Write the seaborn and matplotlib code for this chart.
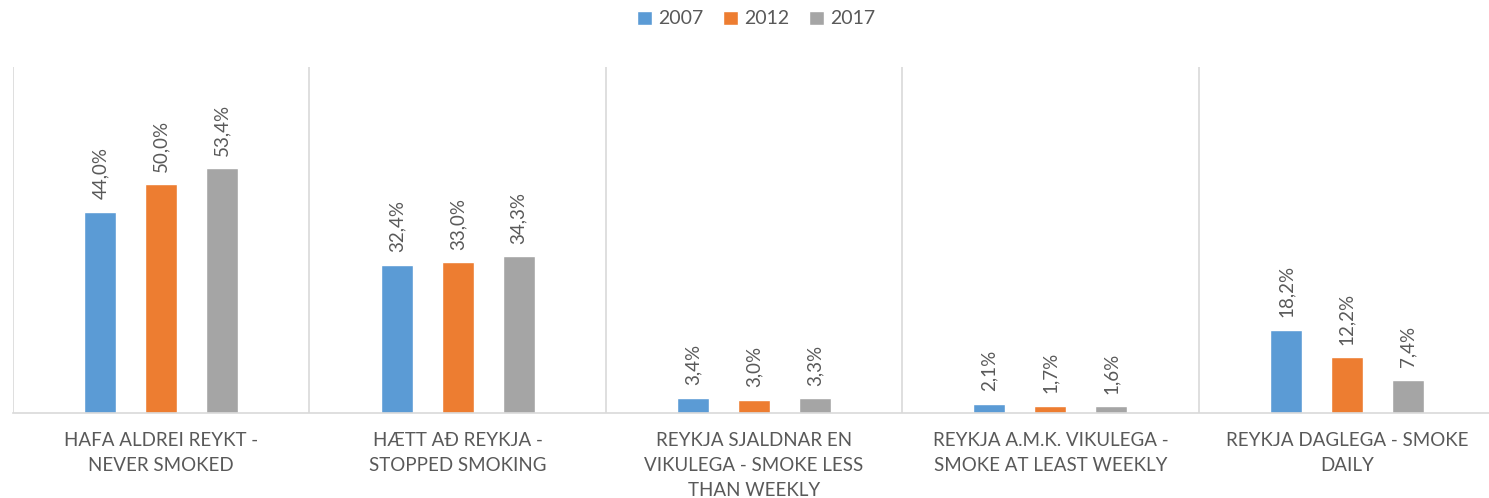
import pandas as pd
import seaborn as sns
import matplotlib.pyplot as plt

sns.set_style('white')
plt.rcParams['font.family'] = ['Lato', 'DejaVu Sans']

categories = ['HAFA ALDREI REYKT -\nNEVER SMOKED',
              'HÆTT AÐ REYKJA -\nSTOPPED SMOKING',
              'REYKJA SJALDNAR EN\nVIKULEGA - SMOKE LESS\nTHAN WEEKLY',
              'REYKJA A.M.K. VIKULEGA -\nSMOKE AT LEAST WEEKLY',
              'REYKJA DAGLEGA - SMOKE\nDAILY']
years = ['2007', '2012', '2017']
v2007 = [44.0, 32.4, 3.4, 2.1, 18.2]
v2012 = [50.0, 33.0, 3.0, 1.7, 12.2]
v2017 = [53.4, 34.3, 3.3, 1.6, 7.4]
colors = ['#5B9BD5', '#ED7D31', '#A5A5A5']

df = pd.DataFrame({
    'cat': categories * 3,
    'year': [y for y in years for _ in categories],
    'val': v2007 + v2012 + v2017,
})

fig = plt.figure(figsize=(14.89, 4.98), dpi=100)
ax = fig.add_axes([13 / 1489, 0.1697, 1482 / 1489, 0.6958])

sns.barplot(data=df, x='cat', y='val', hue='year', palette=colors,
            width=0.617, gap=0.475, ax=ax, saturation=1)

for cont in ax.containers:
    labels = [f'{b.get_height():.1f}%'.replace('.', ',') for b in cont]
    ax.bar_label(cont, labels=labels, rotation=90, padding=9,
                 fontsize=13.5, color='#595959')

for i in range(len(categories) + 1):
    ax.axvline(i - 0.5, color='#D9D9D9', lw=1.2, zorder=0)

ax.set_xlim(-0.5, len(categories) - 0.5)
ax.set_ylim(0, 75.5)
ax.set_yticks([])
ax.set_xlabel('')
ax.set_ylabel('')
for s in ['top', 'right', 'left']:
    ax.spines[s].set_visible(False)
ax.spines['bottom'].set_color('#D9D9D9')
ax.spines['bottom'].set_linewidth(1.2)
ax.tick_params(axis='x', length=0, pad=13, labelsize=13.5, labelcolor='#595959')
for t in ax.get_xticklabels():
    t.set_linespacing(1.58)

ax.legend(loc='center', bbox_to_anchor=(0.508, 0.962), bbox_transform=fig.transFigure,
          ncol=3, frameon=False, fontsize=14, labelcolor='#595959',
          handlelength=0.75, handleheight=0.75, handletextpad=0.35, columnspacing=1.0)

fig.savefig('out.png', dpi=100)
